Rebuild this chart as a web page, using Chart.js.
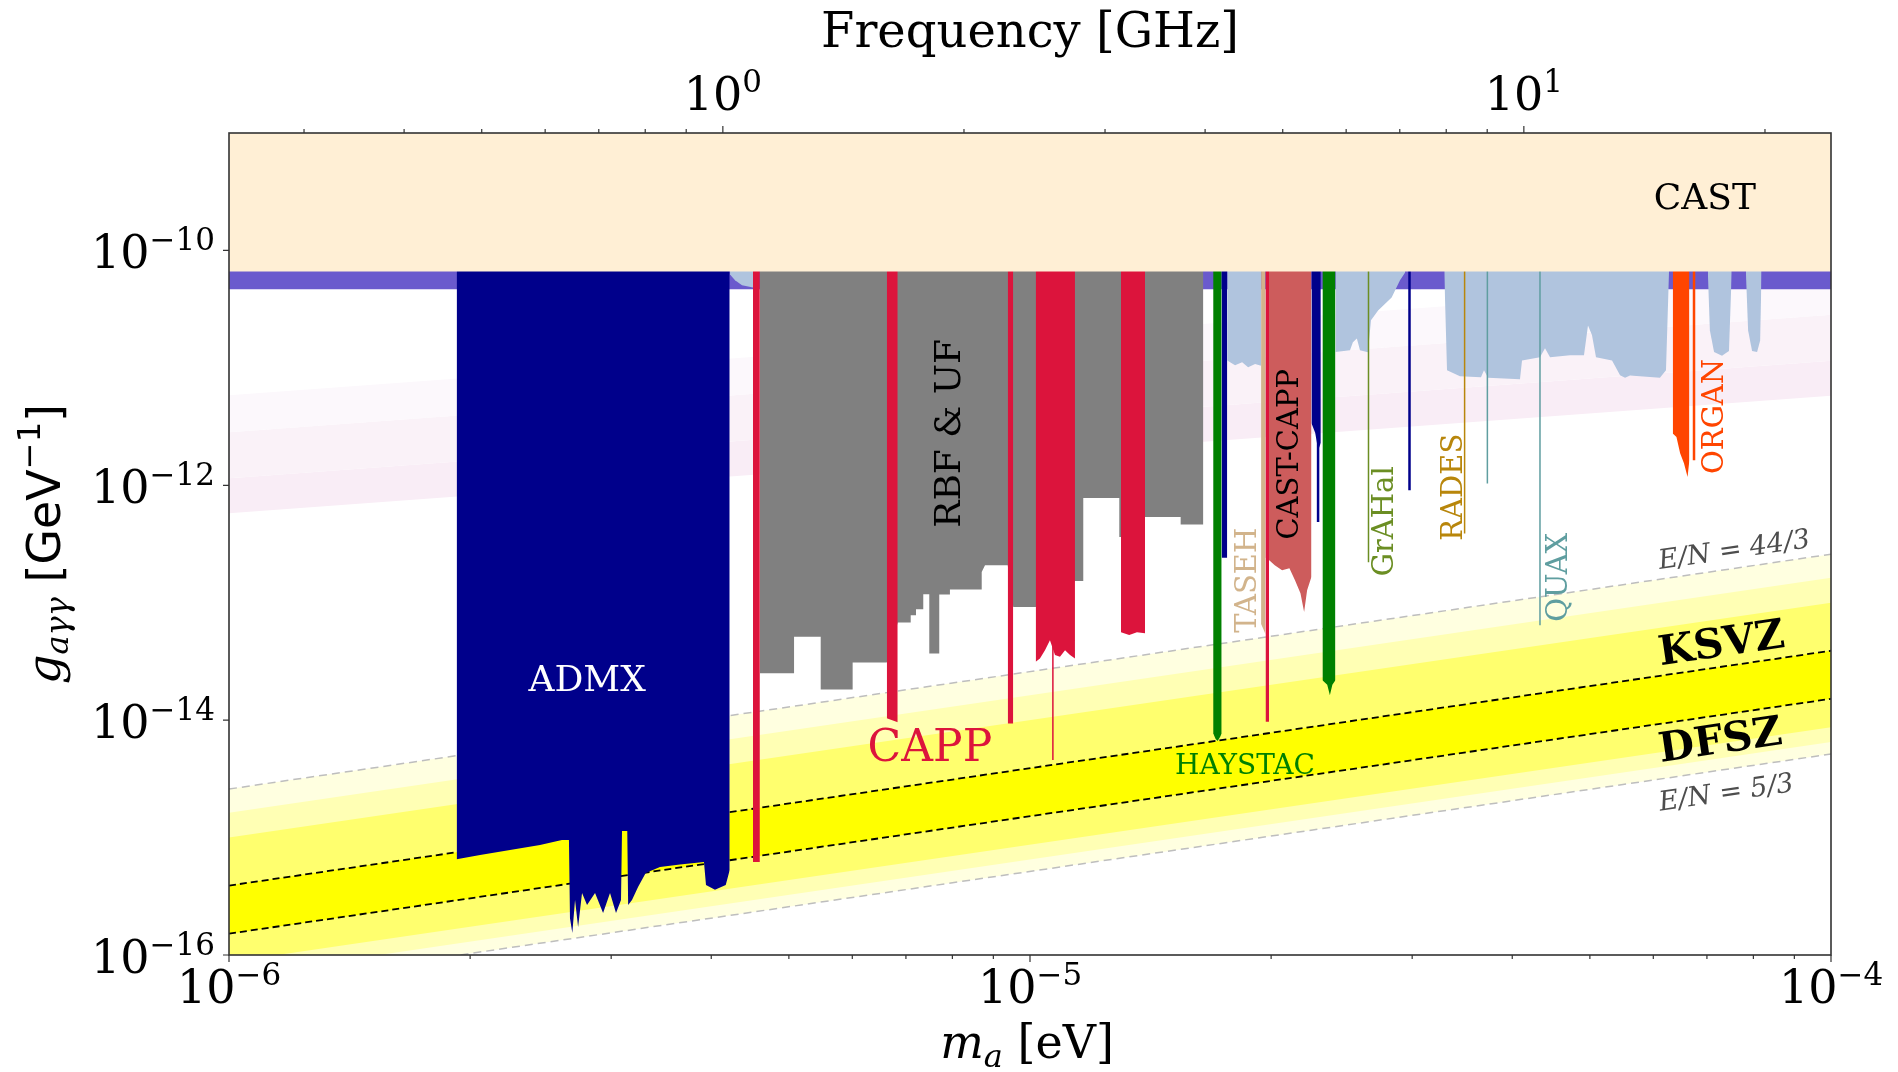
<!DOCTYPE html>
<html>
<head>
<meta charset="utf-8">
<title>Axion haloscope limits</title>
<script src="https://cdn.jsdelivr.net/npm/chart.js@4.4.1/dist/chart.umd.min.js"></script>
<style>
  html, body { margin: 0; padding: 0; background: #fff; }
  #box { width: 1898px; height: 1072px; }
</style>
</head>
<body>
<div id="box"><canvas id="axionChart" width="1898" height="1072"></canvas></div>
<script>
// ---- axes ----
const massLimits = [1e-6, 1e-4];          // eV
const couplingLimits = [1e-16, 1e-9];     // GeV^-1
const evPerGHz = 4.135667e-6;
const massMajorTicks = [1e-6, 1e-5, 1e-4];
const massMinorTicks = [2e-6, 3e-6, 4e-6, 5e-6, 6e-6, 7e-6, 8e-6, 9e-6, 2e-5, 3e-5, 4e-5, 5e-5, 6e-5, 7e-5, 8e-5, 9e-5];
const couplingTicks = [1e-16, 1e-14, 1e-12, 1e-10];
const freqMajorTicks = [1, 10];   // GHz
const freqMinorTicks = [0.3, 0.4, 0.5, 0.6, 0.7, 0.8, 0.9, 2, 3, 4, 5, 6, 7, 8, 9, 20];

// ---- excluded regions: [m_a (eV), g (GeV^-1)] along the lower edge ----
const cast = [[1e-6, 6.62e-11], [1e-4, 6.62e-11]];
const starBound = [[1e-6, 4.66e-11], [1e-4, 4.66e-11]];

const admx = [
  [1.924e-6, 6.53e-16], [2.058e-6, 7.10e-16], [2.243e-6, 7.83e-16], [2.445e-6, 8.63e-16], [2.604e-6, 9.52e-16], [2.657e-6, 9.52e-16],
  [2.665e-6, 2.06e-16], [2.683e-6, 1.54e-16], [2.704e-6, 2.94e-16], [2.728e-6, 1.73e-16], [2.759e-6, 3.37e-16], [2.799e-6, 2.66e-16],
  [2.864e-6, 3.37e-16], [2.931e-6, 2.28e-16], [2.990e-6, 3.37e-16], [3.042e-6, 2.28e-16], [3.086e-6, 2.94e-16],
  [3.095e-6, 1.14e-15], [3.142e-6, 1.14e-15], [3.150e-6, 2.66e-16], [3.185e-6, 2.94e-16], [3.241e-6, 3.79e-16], [3.313e-6, 4.99e-16],
  [3.452e-6, 5.61e-16], [3.656e-6, 5.90e-16], [3.917e-6, 6.19e-16], [3.940e-6, 3.94e-16], [4.043e-6, 3.60e-16], [4.170e-6, 3.94e-16], [4.218e-6, 5.29e-16]
];
const admxHigh1 = [[1.735e-5, 2.42e-13], [1.763e-5, 2.42e-13]];
const admxHigh2 = [[2.246e-5, 3.37e-12], [2.27e-5, 2.8e-12], [2.29e-5, 1.99e-12], [2.307e-5, 2.3e-12]];
const admxLines = [[2.289e-5, 4.87e-13], [2.977e-5, 9.06e-13]];

const rbfUf = [
  [4.60e-6, 2.51e-14], [5.075e-6, 2.51e-14], [5.075e-6, 5.12e-14], [5.479e-6, 5.12e-14], [5.479e-6, 1.825e-14], [6.006e-6, 1.825e-14],
  [6.006e-6, 3.10e-14], [6.625e-6, 3.10e-14], [6.837e-6, 6.785e-14], [7.097e-6, 6.785e-14], [7.097e-6, 7.83e-14], [7.206e-6, 7.83e-14],
  [7.206e-6, 8.81e-14], [7.358e-6, 8.81e-14], [7.358e-6, 1.181e-13], [7.486e-6, 1.181e-13], [7.486e-6, 3.695e-14], [7.704e-6, 3.695e-14],
  [7.704e-6, 1.174e-13], [7.944e-6, 1.174e-13], [7.944e-6, 1.295e-13], [8.704e-6, 1.295e-13], [8.704e-6, 1.829e-13], [8.787e-6, 2.085e-13],
  [9.38e-6, 2.085e-13], [9.53e-6, 9.21e-14], [1.0165e-5, 9.21e-14], [1.138e-5, 1.533e-13], [1.1655e-5, 1.533e-13], [1.1655e-5, 7.80e-13],
  [1.2926e-5, 7.80e-13], [1.2926e-5, 3.63e-13], [1.299e-5, 3.63e-13], [1.392e-5, 5.37e-13], [1.542e-5, 5.37e-13], [1.542e-5, 4.63e-13], [1.646e-5, 4.63e-13]
];

const capp1 = [[4.51e-6, 6.19e-16], [4.60e-6, 6.19e-16]];
const capp2 = [[6.625e-6, 1.04e-14], [6.73e-6, 1.0e-14], [6.837e-6, 9.6e-15]];
const capp3 = [[9.38e-6, 9.38e-15], [9.53e-6, 9.38e-15]];
const capp4 = [[1.0165e-5, 3.14e-14], [1.029e-5, 3.35e-14], [1.044e-5, 3.94e-14], [1.059e-5, 4.8e-14], [1.0745e-5, 3.58e-14], [1.09e-5, 3.46e-14], [1.106e-5, 3.94e-14], [1.122e-5, 3.58e-14], [1.138e-5, 3.35e-14]];
const capp5 = [[1.299e-5, 5.6e-14], [1.33e-5, 5.3e-14], [1.36e-5, 5.6e-14], [1.392e-5, 5.5e-14]];
const capp6 = [[1.968e-5, 9.67e-15], [1.988e-5, 9.67e-15]];
const cappLine = [1.068e-5, 4.57e-15];

const haystac1 = [[1.693e-5, 7.75e-15], [1.705e-5, 6.9e-15], [1.715e-5, 6.63e-15], [1.727e-5, 7.2e-15], [1.735e-5, 7.75e-15]];
const haystac2 = [[2.318e-5, 2.19e-14], [2.35e-5, 2.0e-14], [2.368e-5, 1.633e-14], [2.385e-5, 2.0e-14], [2.406e-5, 2.19e-14]];
const taseh = [[1.943e-5, 6.6e-14], [1.955e-5, 6.0e-14], [1.968e-5, 5.4e-14]];
const castCapp = [[1.968e-5, 2.42e-13], [1.989e-5, 2.30e-13], [2.021e-5, 2.08e-13], [2.064e-5, 1.89e-13], [2.108e-5, 1.97e-13], [2.142e-5, 1.555e-13], [2.176e-5, 1.205e-13], [2.199e-5, 8.35e-14], [2.218e-5, 1.278e-13], [2.246e-5, 1.66e-13]];

const otherHalo1 = [[4.222e-6, 6.25e-11], [4.283e-6, 5.56e-11], [4.37e-6, 5.04e-11], [4.51e-6, 4.84e-11]];
const otherHalo2 = [[1.763e-5, 1.158e-11], [1.803e-5, 1.05e-11], [1.84e-5, 1.114e-11], [1.872e-5, 1.01e-11], [1.91e-5, 1.08e-11], [1.943e-5, 1.04e-11]];
const otherHalo3 = [[2.406e-5, 1.363e-11], [2.509e-5, 1.41e-11], [2.53e-5, 1.65e-11], [2.559e-5, 1.78e-11], [2.582e-5, 1.41e-11], [2.642e-5, 1.355e-11], [2.665e-5, 2.54e-11], [2.72e-5, 3.08e-11], [2.828e-5, 3.98e-11], [2.897e-5, 5.56e-11], [2.94e-5, 6.5e-11]];
const otherHalo4 = [
  [3.29e-5, 6.5e-11], [3.316e-5, 9.52e-12], [3.442e-5, 8.47e-12], [3.656e-5, 8.3e-12], [3.688e-5, 9.52e-12], [3.731e-5, 8.22e-12],
  [4.09e-5, 7.98e-12], [4.114e-5, 1.158e-11], [4.332e-5, 1.229e-11], [4.395e-5, 1.466e-11], [4.459e-5, 1.229e-11], [4.723e-5, 1.278e-11],
  [4.916e-5, 1.278e-11], [4.973e-5, 2.3e-11], [5.03e-5, 1.9e-11], [5.089e-5, 1.229e-11], [5.329e-5, 1.158e-11], [5.453e-5, 8.63e-12],
  [5.532e-5, 8.22e-12], [5.612e-5, 8.6e-12], [6.116e-5, 8.22e-12], [6.223e-5, 9.52e-12], [6.277e-5, 6.5e-11]
];
const otherHalo5 = [[7.019e-5, 6.5e-11], [7.06e-5, 2.08e-11], [7.145e-5, 1.363e-11], [7.31e-5, 1.267e-11], [7.458e-5, 1.39e-11], [7.517e-5, 6.5e-11]];
const otherHalo6 = [[7.83e-5, 6.5e-11], [7.88e-5, 2.08e-11], [7.97e-5, 1.39e-11], [8.086e-5, 1.363e-11], [8.157e-5, 1.714e-11], [8.19e-5, 6.5e-11]];

const organ = [[6.345e-5, 2.754e-12], [6.413e-5, 2.576e-12], [6.481e-5, 1.871e-12], [6.553e-5, 1.538e-12], [6.621e-5, 1.177e-12], [6.656e-5, 1.633e-12]];
const organLine = [6.745e-5, 1.633e-12];
const grahalLine = [2.646e-5, 2.21e-13];
const radesLine = [3.488e-5, 3.88e-13];
const quaxLines = [[3.724e-5, 1.034e-12], [4.332e-5, 6.43e-14]];

// ---- QCD axion models ----
const ksvz = [[1e-6, 3.9e-16], [1e-4, 3.9e-14]];
const dfsz = [[1e-6, 1.52e-16], [1e-4, 1.52e-14]];
const en44over3 = [[1e-6, 2.59e-15], [1e-4, 2.59e-13]];
const en5over3 = [[1e-6, 5.15e-17], [1e-4, 5.15e-15]];
const bandLightUp = [[1e-6, 1.63e-15], [1e-4, 1.63e-13]];
const bandLightLo = [[1e-6, 6.5e-17], [1e-4, 6.5e-15]];
const bandMidUp = [[1e-6, 1.0e-15], [1e-4, 1.0e-13]];
const bandMidLo = [[1e-6, 8.7e-17], [1e-4, 8.7e-15]];

// faint projected band
const pinkEdge1 = [[1e-6, 5.83e-12], [1e-4, 5.83e-11]];
const pinkEdge2 = [[1e-6, 2.83e-12], [1e-4, 2.83e-11]];
const pinkEdge3 = [[1e-6, 1.15e-12], [1e-4, 1.15e-11]];
const pinkEdge4 = [[1e-6, 5.78e-13], [1e-4, 5.78e-12]];

// ---- build datasets (lower order = drawn on top) ----
const datasets = [];
const pts = arr => arr.map(([m, g]) => ({ x: m, y: g }));

function addRegion(arr, color, order) {
  datasets.push({ data: pts(arr), fill: 'end', backgroundColor: color, borderColor: 'transparent', borderWidth: 0, pointRadius: 0, order: order });
}
function addBand(upper, lower, color, order) {
  datasets.push({ data: pts(upper), fill: '+1', backgroundColor: color, borderColor: 'transparent', borderWidth: 0, pointRadius: 0, order: order });
  datasets.push({ data: pts(lower), fill: false, borderColor: 'transparent', borderWidth: 0, pointRadius: 0, order: order });
}
function addLine(arr, color, width, dash, order) {
  datasets.push({ data: pts(arr), fill: false, borderColor: color, borderWidth: width, borderDash: dash, pointRadius: 0, order: order });
}
function addVLine(line, color, width, order) {
  addLine([[line[0], couplingLimits[1]], [line[0], line[1]]], color, width, [], order);
}

addRegion(cast, 'rgb(255,239,213)', 1);

addRegion(capp1, '#DC143C', 3); addRegion(capp2, '#DC143C', 3); addRegion(capp3, '#DC143C', 3);
addRegion(capp4, '#DC143C', 3); addRegion(capp5, '#DC143C', 3); addRegion(capp6, '#DC143C', 3);
addVLine(cappLine, '#DC143C', 1.5, 3);

addRegion(admx, '#00008B', 4);
addRegion(admxHigh1, '#00008B', 4); addRegion(admxHigh2, '#00008B', 4);
admxLines.forEach(l => addVLine(l, '#00008B', 2.5, 4));
addRegion(haystac1, '#008000', 4); addRegion(haystac2, '#008000', 4);
addRegion(taseh, '#D2B48C', 4);
addRegion(castCapp, '#CD5C5C', 4);
addRegion(organ, '#FF4500', 4);
addVLine(organLine, '#FF4500', 2.5, 4);
addVLine(grahalLine, '#6B8E23', 1.5, 4);
addVLine(radesLine, '#B8860B', 1.5, 4);
quaxLines.forEach(l => addVLine(l, '#5F9EA0', 1.5, 4));

addRegion(rbfUf, '#808080', 6);
[otherHalo1, otherHalo2, otherHalo3, otherHalo4, otherHalo5, otherHalo6].forEach(a => addRegion(a, '#B0C4DE', 7));

addRegion(starBound, '#6A5ACD', 10);

addLine(ksvz, '#000000', 1.8, [7, 4], 12);
addLine(dfsz, '#000000', 1.8, [7, 4], 12);
addLine(en44over3, 'rgb(190,190,190)', 1.5, [8, 5], 12);
addLine(en5over3, 'rgb(190,190,190)', 1.5, [8, 5], 12);

addBand(ksvz, dfsz, 'rgb(255,255,0)', 20);
addBand(bandMidUp, bandMidLo, 'rgb(255,255,110)', 21);
addBand(bandLightUp, bandLightLo, 'rgb(255,255,180)', 22);
addBand(en44over3, en5over3, 'rgb(255,255,224)', 23);

addBand(pinkEdge1, pinkEdge2, 'rgb(252,248,252)', 30);
addBand(pinkEdge2, pinkEdge3, 'rgb(250,242,248)', 31);
addBand(pinkEdge3, pinkEdge4, 'rgb(249,237,246)', 32);

// ---- text placed in data coordinates ----
const serif = '"DejaVu Serif", serif';
const sans = '"DejaVu Sans", sans-serif';
const regionLabels = [
  { text: 'CAST', m: 6.96e-5, g: 2.94e-10, color: '#000000', size: 36, style: '', rot: 0 },
  { text: 'ADMX', m: 2.80e-6, g: 2.28e-14, color: '#FFFFFF', size: 36, style: '', rot: 0 },
  { text: 'RBF & UF', m: 7.87e-6, g: 2.77e-12, color: '#000000', size: 36, style: '', rot: -90 },
  { text: 'CAPP', m: 7.50e-6, g: 6.13e-15, color: '#DC143C', size: 44, style: '', rot: 0 },
  { text: 'HAYSTAC', m: 1.855e-5, g: 4.22e-15, color: '#008000', size: 28, style: '', rot: 0 },
  { text: 'TASEH', m: 1.855e-5, g: 1.555e-13, color: '#D2B48C', size: 29, style: '', rot: -90 },
  { text: 'CAST-CAPP', m: 2.097e-5, g: 1.836e-12, color: '#000000', size: 29, style: '', rot: -90 },
  { text: 'GrAHal', m: 2.755e-5, g: 4.94e-13, color: '#6B8E23', size: 29, style: '', rot: -90 },
  { text: 'RADES', m: 3.355e-5, g: 9.62e-13, color: '#B8860B', size: 29, style: '', rot: -90 },
  { text: 'QUAX', m: 4.537e-5, g: 1.648e-13, color: '#5F9EA0', size: 29, style: '', rot: -90 },
  { text: 'ORGAN', m: 7.113e-5, g: 3.86e-12, color: '#FF4500', size: 29, style: '', rot: -90 },
  { text: 'KSVZ', m: 7.29e-5, g: 4.7e-14, color: '#000000', size: 41, style: 'bold ', rot: 'slope' },
  { text: 'DFSZ', m: 7.27e-5, g: 7.03e-15, color: '#000000', size: 41, style: 'bold ', rot: 'slope' },
  { text: 'E/N = 44/3', m: 7.567e-5, g: 2.91e-13, color: '#4d4d4d', size: 27, style: 'italic ', rot: 'slope' },
  { text: 'E/N = 5/3', m: 7.394e-5, g: 2.487e-15, color: '#4d4d4d', size: 27, style: 'italic ', rot: 'slope' }
];

function expText(v) {
  const e = Math.round(Math.log10(v));
  return e < 0 ? '\u2212' + (-e) : String(e);
}
function powLabel(ctx, exp, x, y, align) {
  ctx.font = '46px ' + serif;
  const wb = ctx.measureText('10').width;
  ctx.font = '31px ' + serif;
  const we = ctx.measureText(exp).width;
  let x0 = x;
  if (align === 'center') x0 = x - (wb + we) / 2;
  else if (align === 'right') x0 = x - (wb + we);
  ctx.textAlign = 'left';
  ctx.textBaseline = 'alphabetic';
  ctx.font = '46px ' + serif;
  ctx.fillText('10', x0, y);
  ctx.font = '31px ' + serif;
  ctx.fillText(exp, x0 + wb, y - 18);
}
function richText(ctx, parts, cx, cy) {
  let w = 0;
  for (const p of parts) { ctx.font = p[1]; w += ctx.measureText(p[0]).width; }
  let x0 = cx - w / 2;
  ctx.textAlign = 'left';
  ctx.textBaseline = 'alphabetic';
  for (const p of parts) {
    ctx.font = p[1];
    ctx.fillText(p[0], x0, cy + p[2]);
    x0 += ctx.measureText(p[0]).width;
  }
}

const decorations = {
  id: 'decorations',
  afterDatasetsDraw(chart) {
    const { ctx, scales: { x, y } } = chart;
    const slope = Math.atan2(y.getPixelForValue(1e-14) - y.getPixelForValue(1e-16),
                             x.getPixelForValue(1e-4) - x.getPixelForValue(1e-6));
    ctx.save();
    regionLabels.forEach(l => {
      const px = x.getPixelForValue(l.m), py = y.getPixelForValue(l.g);
      ctx.save();
      ctx.translate(px, py);
      ctx.rotate(l.rot === 'slope' ? slope : l.rot * Math.PI / 180);
      ctx.fillStyle = l.color;
      ctx.font = l.style + l.size + 'px ' + serif;
      ctx.textAlign = 'center';
      ctx.textBaseline = 'alphabetic';
      ctx.fillText(l.text, 0, 0.365 * l.size);
      ctx.restore();
    });
    ctx.restore();
  },
  afterDraw(chart) {
    const { ctx, chartArea: a, scales: { x, y } } = chart;
    ctx.save();
    ctx.strokeStyle = '#333333';
    ctx.lineWidth = 1.6;
    ctx.strokeRect(a.left, a.top, a.right - a.left, a.bottom - a.top);

    ctx.lineWidth = 1.2;
    ctx.beginPath();
    massMajorTicks.forEach(v => { const px = x.getPixelForValue(v); ctx.moveTo(px, a.bottom); ctx.lineTo(px, a.bottom + 7); });
    massMinorTicks.forEach(v => { const px = x.getPixelForValue(v); ctx.moveTo(px, a.bottom); ctx.lineTo(px, a.bottom + 4); });
    freqMajorTicks.forEach(f => { const px = x.getPixelForValue(f * evPerGHz); ctx.moveTo(px, a.top); ctx.lineTo(px, a.top - 7); });
    freqMinorTicks.forEach(f => { const px = x.getPixelForValue(f * evPerGHz); ctx.moveTo(px, a.top); ctx.lineTo(px, a.top - 4); });
    couplingTicks.forEach(v => { const py = y.getPixelForValue(v); ctx.moveTo(a.left, py); ctx.lineTo(a.left - 6, py); });
    ctx.stroke();

    ctx.fillStyle = '#000000';
    massMajorTicks.forEach(v => powLabel(ctx, expText(v), x.getPixelForValue(v), a.bottom + 48, 'center'));
    freqMajorTicks.forEach(f => powLabel(ctx, expText(f), x.getPixelForValue(f * evPerGHz), a.top - 23, 'center'));
    couplingTicks.forEach(v => powLabel(ctx, expText(v), a.left - 14, y.getPixelForValue(v) + 18, 'right'));

    const cx = (a.left + a.right) / 2;
    richText(ctx, [['Frequency [GHz]', '48px ' + serif, 0]], cx, a.top - 86);
    richText(ctx, [['m', 'italic 46px ' + serif, 0], ['a', 'italic 32px ' + serif, 9], [' [eV]', '46px ' + serif, 0]], cx - 3, a.bottom + 103);

    ctx.save();
    ctx.translate(a.left - 169, (a.top + a.bottom) / 2);
    ctx.rotate(-Math.PI / 2);
    richText(ctx, [
      ['g', 'italic 46px ' + serif, 0],
      ['a\u03B3\u03B3', 'italic 32px ' + serif, 8],
      [' [GeV', '46px ' + sans, 0],
      ['\u22121', '32px ' + sans, -20],
      [']', '46px ' + sans, 0]
    ], 0, 0);
    ctx.restore();
    ctx.restore();
  }
};

new Chart(document.getElementById('axionChart'), {
  type: 'line',
  data: { datasets: datasets },
  options: {
    responsive: false,
    devicePixelRatio: 1,
    animation: false,
    events: [],
    layout: { padding: { left: 229, right: 67, top: 133, bottom: 117 } },
    elements: { line: { tension: 0 }, point: { radius: 0 } },
    scales: {
      x: { type: 'logarithmic', min: massLimits[0], max: massLimits[1], display: false },
      y: { type: 'logarithmic', min: couplingLimits[0], max: couplingLimits[1], display: false }
    },
    plugins: { legend: { display: false }, tooltip: { enabled: false } }
  },
  plugins: [decorations]
});
</script>
</body>
</html>
